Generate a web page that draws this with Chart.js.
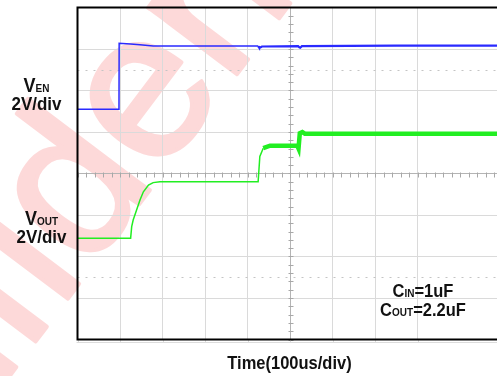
<!DOCTYPE html>
<html>
<head>
<meta charset="utf-8">
<script src="https://cdn.jsdelivr.net/npm/chart.js@4"></script>
<style>
  html, body { margin: 0; padding: 0; background: #fff; }
  #wrap { width: 497px; height: 376px; }
</style>
</head>
<body>
<div id="wrap"><canvas id="scope"></canvas></div>
<script>
// Time in divisions (100us/div), levels in divisions (2V/div)
const enTime  = [0, 0.976, 0.98, 1.25, 1.47, 1.78, 2.9, 4.25, 4.27, 4.29, 4.34, 5.19, 5.22, 5.24, 5.28, 7.5, 9.87];
const enLevel = [1.55, 1.55, 3.14, 3.12, 3.10, 3.07, 3.07, 3.07, 3.04, 3.03, 3.06, 3.07, 3.04, 3.03, 3.07, 3.08, 3.08];

const outTime  = [0, 1.25, 1.275, 1.31, 1.39, 1.47, 1.55, 1.67, 1.78, 1.94, 4.25, 4.29, 4.37, 4.53, 5.17, 5.2, 5.23, 5.29, 5.35, 9.87];
const outLevel = [-1.56, -1.56, -1.28, -1.12, -0.88, -0.64, -0.44, -0.28, -0.22, -0.20, -0.20, 0.41, 0.61, 0.67, 0.67, 0.60, 0.97, 1.0, 0.96, 0.96];

const cursorLevels = [2.5, -2.5];
const watermark = 'Confidential';

function toPoints(xs, ys) {
  return xs.map((x, i) => ({ x: x, y: ys[i] }));
}

const FONT = '"Liberation Sans", Arial, sans-serif';

// text with a subscript part, centred on cx, slightly tall like the scope print
function drawParts(ctx, parts, cx, baseline) {
  let total = 0;
  parts.forEach(p => {
    ctx.font = 'bold ' + p[1] + 'px ' + FONT;
    total += ctx.measureText(p[0]).width;
  });
  ctx.save();
  ctx.translate(cx - total / 2, baseline);
  ctx.scale(1, 1.12);
  ctx.fillStyle = '#111';
  ctx.textBaseline = 'alphabetic';
  let x = 0;
  parts.forEach(p => {
    ctx.font = 'bold ' + p[1] + 'px ' + FONT;
    ctx.fillText(p[0], x, 0);
    x += ctx.measureText(p[0]).width;
  });
  ctx.restore();
}

const backdrop = {
  id: 'backdrop',
  beforeDraw(chart) {
    const ctx = chart.ctx;
    ctx.save();
    ctx.fillStyle = '#fff';
    ctx.fillRect(0, 0, chart.width, chart.height);
    // diagonal watermark, the "e" centred near (150, 100)
    ctx.translate(150, 100);
    ctx.rotate(-53 * Math.PI / 180);
    ctx.font = '210px ' + FONT;
    const off = ctx.measureText('Confid').width + ctx.measureText('e').width / 2;
    ctx.fillStyle = '#fdd9d9';
    ctx.strokeStyle = '#fdd9d9';
    ctx.lineWidth = 4;
    ctx.lineJoin = 'round';
    ctx.fillText(watermark, -off, 54);
    ctx.strokeText(watermark, -off, 54);
    ctx.restore();
  }
};

const overlay = {
  id: 'overlay',
  beforeDatasetsDraw(chart) {
    const ctx = chart.ctx;
    const xs = chart.scales.x, ys = chart.scales.y;
    const a = chart.chartArea;
    ctx.save();
    // dotted cursor lines
    ctx.strokeStyle = '#c4c4c4';
    ctx.lineWidth = 1;
    ctx.setLineDash([2, 6]);
    cursorLevels.forEach(v => {
      const y = Math.round(ys.getPixelForValue(v)) + 0.5;
      ctx.beginPath();
      ctx.moveTo(a.left, y);
      ctx.lineTo(a.right, y);
      ctx.stroke();
    });
    ctx.setLineDash([]);
    // minor ticks on the centre cross
    ctx.strokeStyle = '#a8a8a8';
    const cx = Math.round(xs.getPixelForValue(5)) + 0.5;
    const cy = Math.round(ys.getPixelForValue(0)) + 0.5;
    ctx.beginPath();
    for (let v = -4; v <= 4.001; v += 0.2) {
      const y = Math.round(ys.getPixelForValue(v)) + 0.5;
      ctx.moveTo(cx - 2, y);
      ctx.lineTo(cx + 3, y);
    }
    for (let v = 0; v <= xs.max; v += 0.2) {
      const x = Math.round(xs.getPixelForValue(v)) + 0.5;
      ctx.moveTo(x, cy - 2);
      ctx.lineTo(x, cy + 3);
    }
    ctx.stroke();
    // faint line just under the frame
    ctx.strokeStyle = '#dcdcdc';
    ctx.beginPath();
    ctx.moveTo(a.left - 1, a.bottom + 3);
    ctx.lineTo(a.right, a.bottom + 3);
    xs.ticks.forEach(t => {
      const x = Math.round(xs.getPixelForValue(t.value)) + 0.5;
      ctx.moveTo(x, a.bottom);
      ctx.lineTo(x, a.bottom + 3);
    });
    ctx.stroke();
    ctx.restore();
  },
  afterDraw(chart) {
    const ctx = chart.ctx;
    const a = chart.chartArea;
    ctx.save();
    // frame: left, top, bottom
    ctx.strokeStyle = '#000';
    ctx.lineWidth = 2;
    ctx.beginPath();
    ctx.moveTo(a.right, a.top);
    ctx.lineTo(a.left, a.top);
    ctx.lineTo(a.left, a.bottom);
    ctx.lineTo(a.right, a.bottom);
    ctx.stroke();
    ctx.restore();

    drawParts(ctx, [['V', 18], ['EN', 10]], 36.5, 91.7);
    drawParts(ctx, [['2V/div', 17]], 36.5, 110);
    drawParts(ctx, [['V', 18], ['OUT', 10]], 41.5, 225);
    drawParts(ctx, [['2V/div', 17]], 41.5, 242.5);
    drawParts(ctx, [['C', 16.5], ['IN', 10], ['=1uF', 16.5]], 423, 296.7);
    drawParts(ctx, [['C', 16.5], ['OUT', 10], ['=2.2uF', 16.5]], 423, 315.5);
    drawParts(ctx, [['Time(100us/div)', 16.5]], 289.5, 368.5);
  }
};

new Chart(document.getElementById('scope').getContext('2d'), {
  type: 'line',
  data: {
    datasets: [
      {
        label: 'VEN',
        data: toPoints(enTime, enLevel),
        borderColor: '#2a2aff',
        borderWidth: 1.5,
        pointRadius: 0,
        tension: 0,
        segment: {
          borderWidth: c => c.p0.parsed.x >= 4.25 ? 2.2 : 1.5
        }
      },
      {
        label: 'VOUT',
        data: toPoints(outTime, outLevel),
        borderColor: '#22ee22',
        borderWidth: 1.5,
        pointRadius: 0,
        tension: 0,
        segment: {
          borderWidth: c => c.p0.parsed.x >= 4.3 ? 4.5 : 1.5
        }
      }
    ]
  },
  options: {
    responsive: true,
    maintainAspectRatio: false,
    animation: false,
    layout: { padding: { left: 77.5, top: 7.5, right: 0, bottom: 36.5 } },
    plugins: {
      legend: { display: false },
      tooltip: { enabled: false }
    },
    scales: {
      x: {
        type: 'linear',
        min: 0,
        max: 9.87,
        afterBuildTicks: s => { s.ticks = s.ticks.filter(t => Number.isInteger(t.value)); },
        ticks: { display: false, stepSize: 1 },
        grid: {
          drawTicks: false,
          color: c => c.tick && c.tick.value === 5 ? '#b4b4b4' : '#dadada'
        },
        border: { display: false }
      },
      y: {
        type: 'linear',
        min: -4,
        max: 4,
        ticks: { display: false, stepSize: 1 },
        grid: {
          drawTicks: false,
          color: c => c.tick && c.tick.value === 0 ? '#b4b4b4' : '#dadada'
        },
        border: { display: false }
      }
    }
  },
  plugins: [backdrop, overlay]
});
</script>
</body>
</html>
